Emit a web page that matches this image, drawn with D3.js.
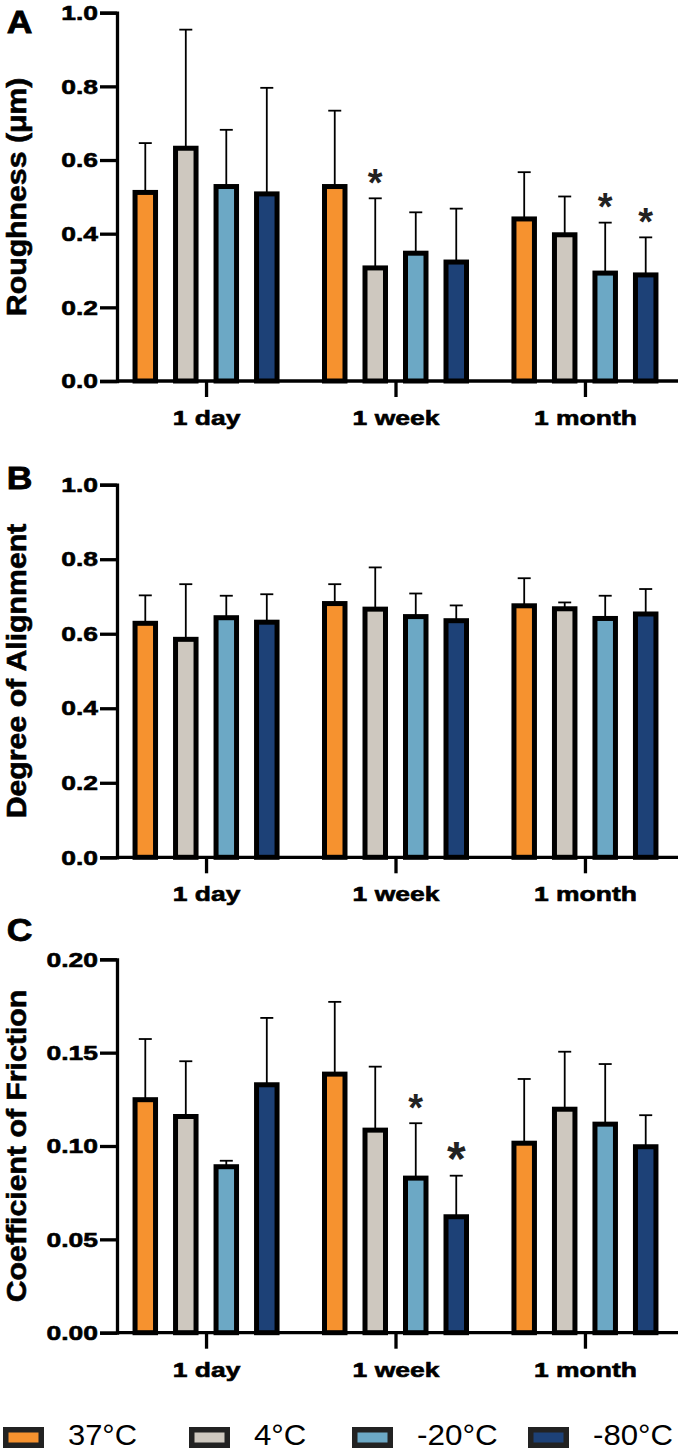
<!DOCTYPE html>
<html>
<head>
<meta charset="utf-8">
<script src="https://cdn.jsdelivr.net/npm/d3@7"></script>
<style>
  html, body { margin: 0; padding: 0; background: #fff; }
  svg { display: block; }
  text { font-family: "Liberation Sans", Arial, Helvetica, sans-serif; }
</style>
</head>
<body>
<svg id="chart" width="680" height="1451"></svg>
<script>
// ---------------- DATA ----------------
const categories = ["1 day", "1 week", "1 month"];
const series = ["37°C", "4°C", "-20°C", "-80°C"];
const seriesColors = ["#F6922F", "#CEC8BF", "#6CA8C5", "#1D4177"];

// rows = categories, columns = series
const roughnessMean = [[0.512, 0.632, 0.528, 0.508], [0.528, 0.307, 0.347, 0.323], [0.440, 0.397, 0.293, 0.288]];
const roughnessSD   = [[0.134, 0.322, 0.154, 0.288], [0.206, 0.189, 0.111, 0.145], [0.127, 0.104, 0.137, 0.102]];

const alignmentMean = [[0.628, 0.585, 0.643, 0.631], [0.681, 0.666, 0.646, 0.635], [0.675, 0.667, 0.641, 0.653]];
const alignmentSD   = [[0.075, 0.148, 0.059, 0.075], [0.052, 0.112, 0.062, 0.041], [0.074, 0.017, 0.061, 0.067]];

const frictionMean = [[0.1248, 0.1158, 0.0889, 0.1328], [0.1385, 0.1085, 0.0828, 0.0621], [0.1015, 0.1197, 0.1117, 0.0996]];
const frictionSD   = [[0.0325, 0.0296, 0.0032, 0.0358], [0.0387, 0.0340, 0.0294, 0.0220], [0.0344, 0.0308, 0.0322, 0.0169]];

const unitTicks = [0, 0.2, 0.4, 0.6, 0.8, 1.0];
const frictionTicks = [0, 0.05, 0.10, 0.15, 0.20];

// significance markers: [category index, series index]
const roughnessStars = [[1, 1], [2, 2], [2, 3]];
const alignmentStars = [];
const frictionStars = [[1, 2], [1, 3]];

// ---------------- LAYOUT ----------------
const svg = d3.select("#chart");
const axisX = 117, axisRight = 678;
const font = '"Liberation Sans", Arial, Helvetica, sans-serif';

const panels = [
  { letter: "A", title: "Roughness (\u03bcm)", mean: roughnessMean, sd: roughnessSD, ticks: unitTicks, fmt: d3.format(".1f"),
    max: 1.0, y0: 381, yTop: 12.7, letterY: 33.3, stars: roughnessStars, bigStar: [] },
  { letter: "B", title: "Degree of Alignment", mean: alignmentMean, sd: alignmentSD, ticks: unitTicks, fmt: d3.format(".1f"),
    max: 1.0, y0: 857.3, yTop: 484.7, letterY: 489, stars: alignmentStars, bigStar: [] },
  { letter: "C", title: "Coefficient of Friction", mean: frictionMean, sd: frictionSD, ticks: frictionTicks, fmt: d3.format(".2f"),
    max: 0.20, y0: 1332.7, yTop: 959.3, letterY: 941, stars: frictionStars, bigStar: [[1, 3]] }
];

const x = d3.scalePoint().domain(categories).range([axisX, 674]).padding(0.47);
const xs = d3.scaleBand().domain(series).range([-71, 71]).paddingInner(0.494).paddingOuter(0);

function stretch(sel, k) {
  sel.each(function () {
    const w = this.getComputedTextLength();
    this.setAttribute("textLength", w * k);
    this.setAttribute("lengthAdjust", "spacingAndGlyphs");
  });
}
function heavy(sel, w) {
  sel.attr("stroke", "#000").attr("stroke-width", w).attr("paint-order", "stroke");
}

panels.forEach(p => {
  const y = d3.scaleLinear().domain([0, p.max]).range([p.y0, p.yTop]);
  const g = svg.append("g");

  // panel letter
  const lt = g.append("text").attr("x", 6.7).attr("y", p.letterY)
    .attr("font-size", 32).attr("font-weight", "bold").text(p.letter);
  stretch(lt, 1.11);
  heavy(lt, 0.8);

  // y title
  const tt = g.append("text")
    .attr("transform", `translate(26,${(p.y0 + p.yTop) / 2}) rotate(-90)`)
    .attr("text-anchor", "middle").attr("font-size", 27).attr("font-weight", "bold")
    .text(p.title);
  stretch(tt, 1.12);
  heavy(tt, 0.6);

  // flatten data
  const data = [];
  categories.forEach((c, i) => series.forEach((s, j) => {
    data.push({ c, s, j, v: p.mean[i][j], e: p.sd[i][j] });
  }));

  // error bars
  const eb = g.append("g").attr("stroke", "#000").attr("stroke-width", 1.8);
  data.forEach(d => {
    const cx = x(d.c) + xs(d.s) + xs.bandwidth() / 2;
    eb.append("line").attr("x1", cx).attr("x2", cx).attr("y1", y(d.v)).attr("y2", y(d.v + d.e));
    eb.append("line").attr("x1", cx - 6.5).attr("x2", cx + 6.5).attr("y1", y(d.v + d.e)).attr("y2", y(d.v + d.e));
  });

  // bars
  g.append("g").selectAll("rect").data(data).join("rect")
    .attr("x", d => x(d.c) + xs(d.s))
    .attr("width", xs.bandwidth())
    .attr("y", d => y(d.v))
    .attr("height", d => y(0) - y(d.v))
    .attr("fill", d => seriesColors[d.j])
    .attr("stroke", "#000")
    .attr("stroke-width", 5);

  // stars
  p.stars.forEach(([ci, si]) => {
    const big = p.bigStar.some(b => b[0] === ci && b[1] === si);
    const fs = big ? 48 : 38;
    const top = y(p.mean[ci][si] + p.sd[ci][si]);
    const cx = x(categories[ci]) + xs(series[si]) + xs.bandwidth() / 2;
    const centerY = top - (big ? 28 : 24);
    g.append("text").attr("x", cx).attr("y", centerY + 0.56 * fs)
      .attr("text-anchor", "middle").attr("font-size", fs).attr("font-weight", "bold")
      .attr("fill", "#222").text("*");
  });

  // y axis
  const ya = g.append("g").attr("transform", `translate(${axisX},0)`)
    .call(d3.axisLeft(y).tickValues(p.ticks).tickFormat(p.fmt).tickSize(17).tickSizeOuter(17).tickPadding(2));
  ya.selectAll("path,line").attr("stroke", "#000").attr("stroke-width", 3.3);
  ya.selectAll("text").attr("font-size", 21).attr("font-weight", "bold").attr("fill", "#000")
    .attr("font-family", font);
  stretch(ya.selectAll("text"), 1.26);
  heavy(ya.selectAll("text"), 0.6);

  // x axis
  const xa = g.append("g").attr("transform", `translate(0,${p.y0})`)
    .call(d3.axisBottom(x).tickSize(16).tickSizeOuter(0).tickPadding(12));
  xa.select(".domain").remove();
  xa.append("line").attr("x1", axisX).attr("x2", axisRight).attr("y1", 0).attr("y2", 0);
  xa.selectAll("line").attr("stroke", "#000").attr("stroke-width", 3.3);
  xa.selectAll("text").attr("font-size", 21).attr("font-weight", "bold").attr("fill", "#000")
    .attr("font-family", font).attr("dy", 0).attr("y", 44);
  stretch(xa.selectAll("text"), 1.26);
  heavy(xa.selectAll("text"), 0.6);
});

// ---------------- LEGEND ----------------
const legendLeft = [3, 189, 352, 528];
const lg = svg.append("g");
series.forEach((s, j) => {
  lg.append("rect").attr("x", legendLeft[j] + 2.75).attr("y", 1429.75)
    .attr("width", 35.5).attr("height", 15.5)
    .attr("fill", seriesColors[j]).attr("stroke", "#222").attr("stroke-width", 5.5);
  const t = lg.append("text").attr("x", legendLeft[j] + 65).attr("y", 1445)
    .attr("font-size", 30).attr("fill", "#000").text(s);
  const w = t.node().getComputedTextLength();
  const target = [69, 52.3, 80.7, 80][j];
  t.attr("textLength", target).attr("lengthAdjust", "spacingAndGlyphs");
});
</script>
</body>
</html>
